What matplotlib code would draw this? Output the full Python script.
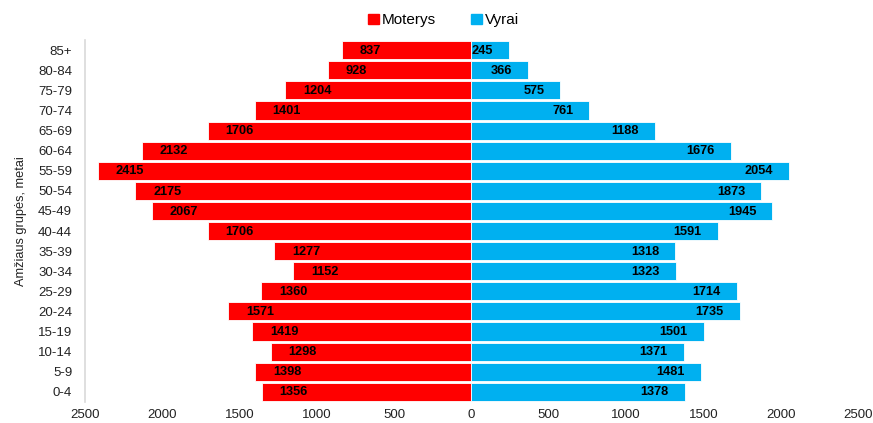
import matplotlib.pyplot as plt
from matplotlib.patches import Patch

plt.rcParams['font.family'] = ['Liberation Sans', 'DejaVu Sans']

# age groups, bottom to top
groups = ["0-4", "5-9", "10-14", "15-19", "20-24", "25-29", "30-34", "35-39",
          "40-44", "45-49", "50-54", "55-59", "60-64", "65-69", "70-74",
          "75-79", "80-84", "85+"]
women = [1356, 1398, 1298, 1419, 1571, 1360, 1152, 1277, 1706, 2067,
         2175, 2415, 2132, 1706, 1401, 1204, 928, 837]
men = [1378, 1481, 1371, 1501, 1735, 1714, 1323, 1318, 1591, 1945,
       1873, 2054, 1676, 1188, 761, 575, 366, 245]
ticks = [-2500, -2000, -1500, -1000, -500, 0, 500, 1000, 1500, 2000, 2500]

red = "#FF0000"
blue = "#00B0F0"

fig = plt.figure(figsize=(8.73, 4.23), dpi=100)
ax = fig.add_axes([0.097, 0.05, 0.886, 0.855])

y = list(range(len(groups)))
ax.barh(y, [-w for w in women], height=0.9, color=red, edgecolor="white", linewidth=0.6)
ax.barh(y, men, height=0.9, color=blue, edgecolor="white", linewidth=0.6)

# value labels just inside the outer end of each bar
for i in y:
    ax.annotate(str(women[i]), (-women[i], i), xytext=(13, -0.5), textcoords="offset points",
                ha="left", va="center", fontsize=9.2, fontweight="bold")
    ax.annotate(str(men[i]), (men[i], i), xytext=(-11.5, -0.5), textcoords="offset points",
                ha="right", va="center", fontsize=9.2, fontweight="bold")

ax.set_xlim(-2500, 2500)
ax.set_ylim(-0.5, len(groups) - 0.5)
ax.set_yticks(y)
ax.set_yticklabels(groups, fontsize=9.5, color="#222222")
ax.set_xticks(ticks)
ax.set_xticklabels([str(abs(t)) for t in ticks], fontsize=9.5, color="#222222")
ax.tick_params(axis="y", length=0, pad=9)
ax.tick_params(axis="x", length=0, pad=5)
for s in ["top", "right", "bottom"]:
    ax.spines[s].set_visible(False)
ax.spines["left"].set_color("#D9D9D9")
ax.spines["left"].set_linewidth(1.2)
ax.set_ylabel("Amžiaus grupės, metai", fontsize=9.2, color="#222222", labelpad=8)

handles = [Patch(color=red, label="Moterys"), Patch(color=blue, label="Vyrai")]
fig.legend(handles=handles, loc="center", bbox_to_anchor=(0.508, 0.952), ncol=2,
           frameon=False, fontsize=11, handlelength=0.7, handleheight=0.7,
           handletextpad=0.2, columnspacing=2.3)

fig.savefig("out.png", dpi=100)
